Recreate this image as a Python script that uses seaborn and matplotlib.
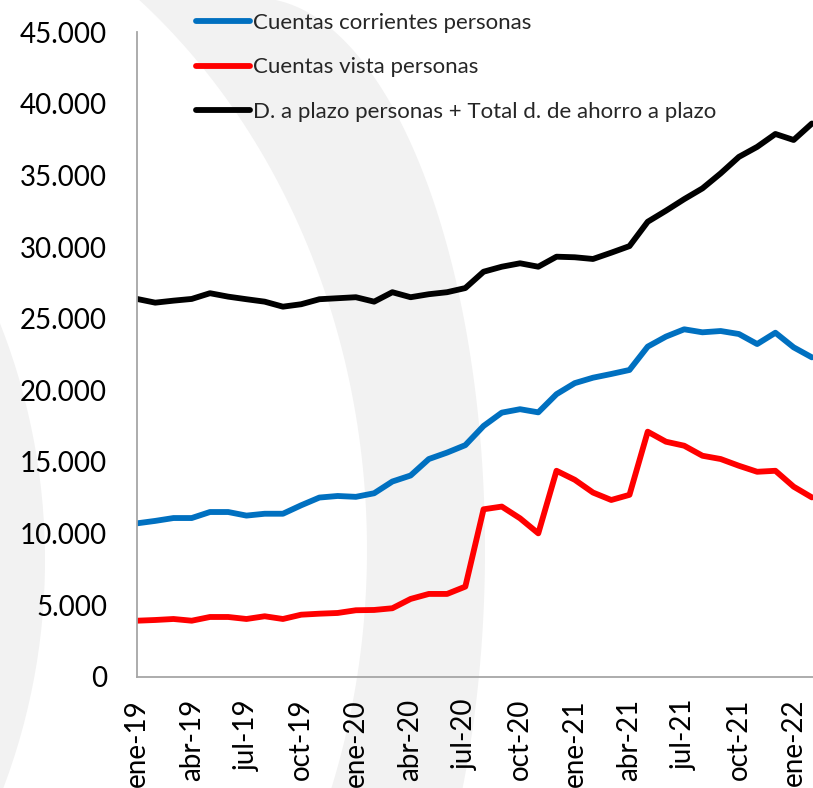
import matplotlib
matplotlib.use("Agg")
import matplotlib.pyplot as plt
from matplotlib.patches import Wedge, Polygon
from matplotlib.ticker import FuncFormatter
import seaborn as sns
import pandas as pd
import numpy as np

# ---------------- data ----------------
months = ["ene-19", "feb-19", "mar-19", "abr-19", "may-19", "jun-19", "jul-19", "ago-19",
          "sep-19", "oct-19", "nov-19", "dic-19", "ene-20", "feb-20", "mar-20", "abr-20",
          "may-20", "jun-20", "jul-20", "ago-20", "sep-20", "oct-20", "nov-20", "dic-20",
          "ene-21", "feb-21", "mar-21", "abr-21", "may-21", "jun-21", "jul-21", "ago-21",
          "sep-21", "oct-21", "nov-21", "dic-21", "ene-22", "feb-22"]

cuentas_corrientes = [10710, 10880, 11080, 11080, 11500, 11500, 11250, 11380, 11380, 11970,
                      12510, 12620, 12560, 12810, 13630, 14050, 15200, 15650, 16170, 17510,
                      18440, 18680, 18460, 19730, 20500, 20880, 21140, 21420, 23050, 23750,
                      24260, 24050, 24140, 23930, 23230, 24020, 23000, 22300]

cuentas_vista = [3910, 3960, 4030, 3910, 4170, 4170, 4030, 4220, 4030, 4330,
                 4400, 4450, 4640, 4660, 4780, 5430, 5780, 5780, 6290, 11690,
                 11880, 11060, 10010, 14380, 13750, 12860, 12340, 12700, 17110, 16410,
                 16130, 15430, 15200, 14730, 14310, 14380, 13270, 12520]

depositos_plazo = [26380, 26120, 26260, 26380, 26780, 26540, 26360, 26190, 25840, 26010,
                   26360, 26430, 26500, 26190, 26850, 26500, 26710, 26850, 27140, 28280,
                   28630, 28870, 28630, 29330, 29290, 29170, 29610, 30070, 31770, 32540,
                   33350, 34100, 35150, 36300, 37000, 37900, 37480, 38630]

series_names = ["Cuentas corrientes personas",
                "Cuentas vista personas",
                "D. a plazo personas + Total d. de ahorro a plazo"]
series_colors = ["#0070C0", "#FF0000", "#000000"]

y_ticks = [0, 5000, 10000, 15000, 20000, 25000, 30000, 35000, 40000, 45000]
x_tick_idx = list(range(0, len(months), 3))

# ---------------- long-form table ----------------
df = pd.concat([
    pd.DataFrame({"idx": range(len(months)), "valor": vals, "serie": name})
    for name, vals in zip(series_names, [cuentas_corrientes, cuentas_vista, depositos_plazo])
], ignore_index=True)

sns.set_style("white")
plt.rcParams["font.family"] = ["Lato", "DejaVu Sans"]

W, H = 813, 788
fig = plt.figure(figsize=(W / 100, H / 100), dpi=100)

# ---------------- faint watermark arcs (decoration) ----------------
bg = fig.add_axes([0, 0, 1, 1], zorder=0)
bg.set_xlim(0, W)
bg.set_ylim(H, 0)
bg.axis("off")
t = np.linspace(-np.pi / 2, np.pi / 2, 200)
outer = np.column_stack([256 + 229 * np.cos(t), 550 + 552 * np.sin(t)])
inner = np.column_stack([-230 + 597 * np.cos(t), 550 + 700 * np.sin(t)])[::-1]
bg.add_patch(Polygon(np.vstack([outer, inner]), closed=True, color="#f2f2f2", lw=0))
bg.add_patch(Wedge((-600, 560), 645, 0, 360, width=65, color="#f2f2f2", lw=0))

# ---------------- main axes ----------------
left, right, top, bottom = 137, 813, 32.3, 676.7
ax = fig.add_axes([left / W, (H - bottom) / H, (right - left) / W, (bottom - top) / H], zorder=1)
ax.patch.set_alpha(0)

palette = dict(zip(series_names, series_colors))
sns.lineplot(data=df, x="idx", y="valor", hue="serie", hue_order=series_names,
             palette=palette, linewidth=4.2, ax=ax, solid_joinstyle="round")

ax.set_xlim(0, (right - left) / 18.24)
ax.set_ylim(0, 45000)
ax.set_xlabel("")
ax.set_ylabel("")

ax.set_yticks(y_ticks)
ax.yaxis.set_major_formatter(FuncFormatter(lambda v, p: f"{int(v):,}".replace(",", ".")))
ax.set_xticks(x_tick_idx)
ax.set_xticklabels([months[i] for i in x_tick_idx], rotation=90)

ax.tick_params(axis="y", length=0, pad=21.6, labelsize=20, labelcolor="#000000")
ax.tick_params(axis="x", length=0, pad=16.0, labelsize=20, labelcolor="#000000")

for s in ["top", "right"]:
    ax.spines[s].set_visible(False)
for s in ["left", "bottom"]:
    ax.spines[s].set_color("#a6a6a6")
    ax.spines[s].set_linewidth(1.3)

handles, labels = ax.get_legend_handles_labels()
ax.legend(handles, labels, loc="upper left", bbox_to_anchor=(196 / W, 1 - 13 / H),
          bbox_transform=fig.transFigure, frameon=False, fontsize=16,
          handlelength=2.43, handletextpad=0.14, labelspacing=1.1,
          borderpad=0, borderaxespad=0)

fig.savefig("out.png", dpi=100)
